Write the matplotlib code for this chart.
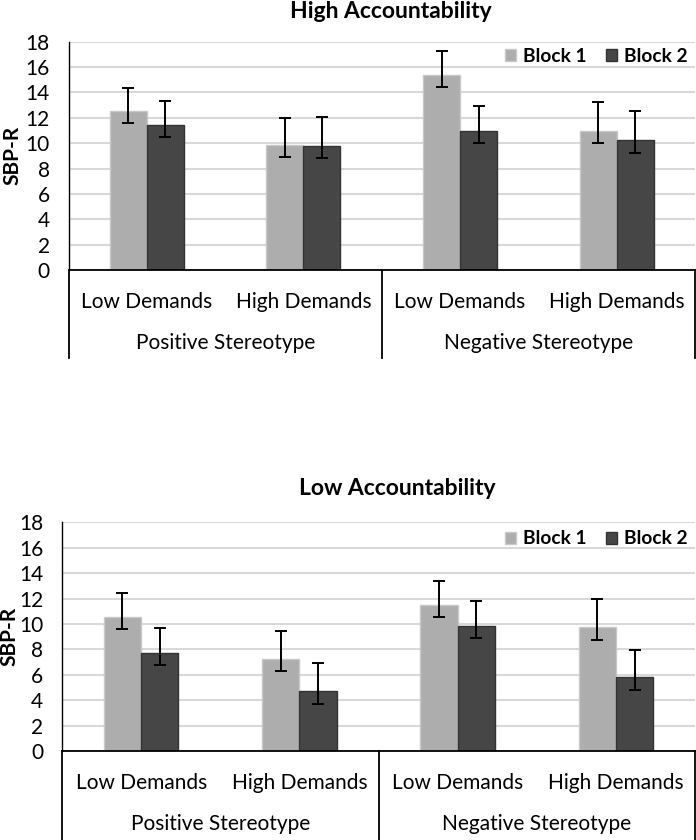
import matplotlib
matplotlib.use("Agg")
import matplotlib.pyplot as plt
from matplotlib.patches import Patch
import numpy as np

plt.rcParams['font.family'] = ['Lato', 'DejaVu Sans']

demands = ["Low Demands", "High Demands", "Low Demands", "High Demands"]
stereotypes = ["Positive Stereotype", "Negative Stereotype"]
series_names = ["Block 1", "Block 2"]
yticks = [0, 2, 4, 6, 8, 10, 12, 14, 16, 18]

# High Accountability
high_b1 = [12.55, 9.88, 15.36, 10.98]
high_b1_upper = [14.35, 11.95, 17.24, 13.23]
high_b1_lower = [11.56, 8.90, 14.39, 9.98]
high_b2 = [11.45, 9.80, 10.95, 10.22]
high_b2_upper = [13.34, 12.03, 12.92, 12.50]
high_b2_lower = [10.48, 8.83, 9.98, 9.22]

# Low Accountability
low_b1 = [10.57, 7.24, 11.47, 9.74]
low_b1_upper = [12.42, 9.43, 13.39, 11.94]
low_b1_lower = [9.58, 6.28, 10.55, 8.74]
low_b2 = [7.72, 4.70, 9.87, 5.80]
low_b2_upper = [9.69, 6.93, 11.83, 7.95]
low_b2_lower = [6.77, 3.73, 8.92, 4.83]

C1, E1 = "#ADADAD", "#C9C9C9"
C2, E2 = "#464646", "#333333"

W, H = 696, 840
FS = 15
fig = plt.figure(figsize=(W / 100, H / 100), dpi=100)


def px_axes(left, right, top, bottom):
    return fig.add_axes([left / W, 1 - bottom / H, (right - left) / W, (bottom - top) / H])


def draw(ax, title, title_x, title_y, ylab_x, b1, b1u, b1l, b2, b2u, b2l, box_bottom_px, leg_y):
    x = np.arange(len(demands))
    bw = 0.236
    b1 = np.array(b1); b2 = np.array(b2)
    e1 = [b1 - np.array(b1l), np.array(b1u) - b1]
    e2 = [b2 - np.array(b2l), np.array(b2u) - b2]
    ax.set_ylim(0, 18)
    ax.set_xlim(-0.5, len(demands) - 0.5)
    ax.set_yticks(yticks)
    ax.yaxis.grid(True, color="#D9D9D9", linewidth=1.5)
    ax.set_axisbelow(True)
    ax.bar(x - bw / 2, b1, bw, color=C1, edgecolor=E1, linewidth=1, label=series_names[0], zorder=2)
    ax.bar(x + bw / 2, b2, bw, color=C2, edgecolor=E2, linewidth=1, label=series_names[1], zorder=2)
    ax.errorbar(x - bw / 2, b1, yerr=e1, fmt="none", ecolor="black", elinewidth=1.4,
                capsize=4, capthick=1.4, zorder=3)
    ax.errorbar(x + bw / 2, b2, yerr=e2, fmt="none", ecolor="black", elinewidth=1.4,
                capsize=4, capthick=1.4, zorder=3)
    for s in ["top", "right"]:
        ax.spines[s].set_visible(False)
    ax.spines["left"].set_color("black")
    ax.spines["left"].set_linewidth(1)
    ax.spines["bottom"].set_color("black")
    ax.spines["bottom"].set_linewidth(1.3)
    ax.tick_params(axis="y", length=0, pad=13.5, labelsize=FS, labelcolor="black")
    ax.set_xticks(x)
    ax.set_xticklabels(demands)
    ax.tick_params(axis="x", length=0, pad=16, labelsize=FS, labelcolor="black")

    ax_h_px = ax.get_position().height * H
    yb = -(box_bottom_px) / ax_h_px
    tr = ax.get_xaxis_transform()
    for xv in [-0.5, 1.5, 3.5]:
        ax.plot([xv, xv], [0, yb], color="black", linewidth=1.3, transform=tr, clip_on=False)
    ys = -73 / ax_h_px
    for i, name in enumerate(stereotypes):
        ax.text(2 * i + 0.5, ys, name, transform=tr, ha="center", va="center", fontsize=FS)

    fig.text(title_x / W, 1 - title_y / H, title, ha="center", va="center",
             fontsize=16.5, fontweight="bold")
    pos = ax.get_position()
    fig.text(ylab_x / W, pos.y0 + pos.height / 2, "SBP-R", rotation=90, ha="center",
             va="center", fontsize=FS, fontweight="bold")

    handles = [Patch(facecolor=C1, edgecolor=E1), Patch(facecolor=C2, edgecolor=E2)]
    ax.legend(handles, series_names, loc="center right", bbox_to_anchor=(697 / W, 1 - leg_y / H),
              bbox_transform=fig.transFigure, ncol=2, frameon=False, borderpad=0,
              handlelength=0.6, handleheight=0.6, handletextpad=0.35, columnspacing=1.0,
              prop={"weight": "bold", "size": 13.8})


ax1 = px_axes(68.5, 695, 41.7, 270)
draw(ax1, "High Accountability", 391, 11, 12,
     high_b1, high_b1_upper, high_b1_lower, high_b2, high_b2_upper, high_b2_lower, 88, 56)

ax2 = px_axes(62, 695, 522.3, 751)
draw(ax2, "Low Accountability", 397, 488, 9,
     low_b1, low_b1_upper, low_b1_lower, low_b2, low_b2_upper, low_b2_lower, 92, 539)

fig.savefig("out.png", dpi=100)
